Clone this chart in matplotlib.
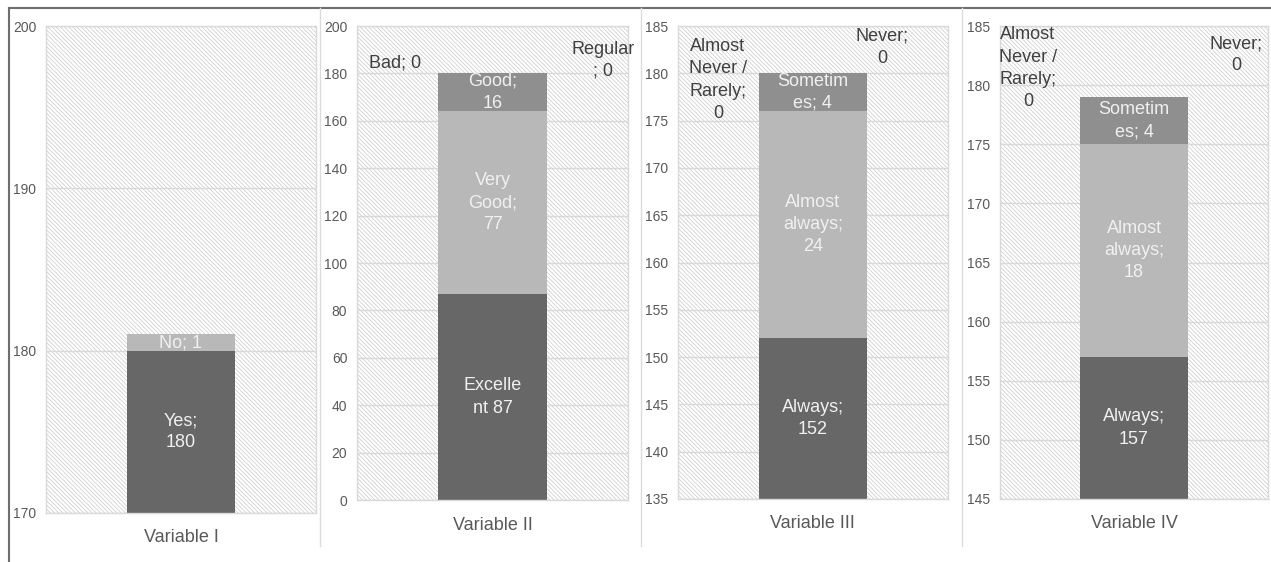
import matplotlib
matplotlib.use('Agg')
import matplotlib.pyplot as plt
from matplotlib.patches import Rectangle
from matplotlib.lines import Line2D

plt.rcParams['font.family'] = ['Liberation Sans Narrow', 'Liberation Sans', 'DejaVu Sans']
plt.rcParams['hatch.linewidth'] = 0.5

# Survey answers, one stacked bar per variable (bottom segment first)
var_names = ['Variable I', 'Variable II', 'Variable III', 'Variable IV']

v1_vals = [180, 1]
v1_text = ['Yes;\n{}', 'No; {}']

v2_vals = [87, 77, 16, 0, 0]
v2_text = ['Excelle\nnt {}', 'Very\nGood;\n{}', 'Good;\n{}', 'Regular\n; {}', 'Bad; {}']

v3_vals = [152, 24, 4, 0, 0]
v3_text = ['Always;\n{}', 'Almost\nalways;\n{}', 'Sometim\nes; {}',
           'Almost\nNever /\nRarely;\n{}', 'Never;\n{}']

v4_vals = [157, 18, 4, 0, 0]
v4_text = ['Always;\n{}', 'Almost\nalways;\n{}', 'Sometim\nes; {}',
           'Almost\nNever /\nRarely;\n{}', 'Never;\n{}']

y_ranges = [(170, 200, 10), (0, 200, 20), (135, 185, 5), (145, 185, 5)]

seg_colors = ['#676767', '#b8b8b8', '#8f8f8f']

# axes boxes in figure fraction
boxes = [
    [0.0362, 0.0872, 0.2124, 0.8665],
    [0.2809, 0.1103, 0.2132, 0.8434],
    [0.5334, 0.1121, 0.2124, 0.8416],
    [0.7868, 0.1121, 0.2109, 0.8416],
]
# where the zero-valued labels sit (axes fraction)
zero_pos = [
    [],
    [(0.908, 0.928), (0.14, 0.922)],
    [(0.148, 0.886), (0.756, 0.955)],
    [(0.104, 0.911), (0.88, 0.939)],
]

fig = plt.figure(figsize=(12.71, 5.62), dpi=100)

all_vals = [v1_vals, v2_vals, v3_vals, v4_vals]
all_text = [v1_text, v2_text, v3_text, v4_text]

for i in range(4):
    ax = fig.add_axes(boxes[i])
    vals = all_vals[i]
    texts = all_text[i]
    lo, hi, step = y_ranges[i]

    # hatched plot area
    bg = Rectangle((0, 0), 1, 1, transform=ax.transAxes, facecolor='white',
                   edgecolor='#c8c8c8', hatch='\\' * 8, lw=0, zorder=0)
    ax.add_patch(bg)
    ax.patch.set_visible(False)

    bottom = 0
    zi = 0
    for j, v in enumerate(vals):
        label = texts[j].format(v)
        if v > 0:
            ax.bar(0, v, bottom=bottom, width=0.4, color=seg_colors[j], zorder=2)
            # centre the label on the visible part of the segment
            yc = (max(bottom, lo) + min(bottom + v, hi)) / 2
            ax.text(0, yc, label, ha='center', va='center',
                    color='#f0f0f0', fontsize=13, linespacing=1.4, zorder=3)
            bottom += v
        else:
            px, py = zero_pos[i][zi]
            zi += 1
            ax.text(px, py, label, transform=ax.transAxes, ha='center', va='center',
                    color='#404040', fontsize=13, linespacing=1.4, zorder=3)

    ax.set_xlim(-0.5, 0.5)
    ax.set_ylim(lo, hi)
    ax.set_yticks(range(lo, hi + 1, step))
    ax.set_xticks([])
    ax.tick_params(axis='y', length=0, pad=7, labelsize=10, labelcolor='#595959')
    ax.grid(axis='y', color='#d9d9d9', lw=1)
    ax.set_axisbelow(True)
    for s in ax.spines.values():
        s.set_color('#d9d9d9')
        s.set_linewidth(1)
    ax.annotate(var_names[i], xy=(0.5, 0), xycoords='axes fraction',
                xytext=(0, -25), textcoords='offset pixels',
                ha='center', va='center', fontsize=13, color='#595959')

# outer frame and panel separators
fig.add_artist(Line2D([0.0071, 0.0071], [0.9858, 0.0], color='#6e6e6e', lw=1.5))
fig.add_artist(Line2D([0.0071, 1.0], [0.9858, 0.9858], color='#6e6e6e', lw=1.5))
for x in [0.2518, 0.5043, 0.7569]:
    fig.add_artist(Line2D([x, x], [0.9858, 0.0285], color='#dcdcdc', lw=1))

fig.savefig('out.png', dpi=100)
